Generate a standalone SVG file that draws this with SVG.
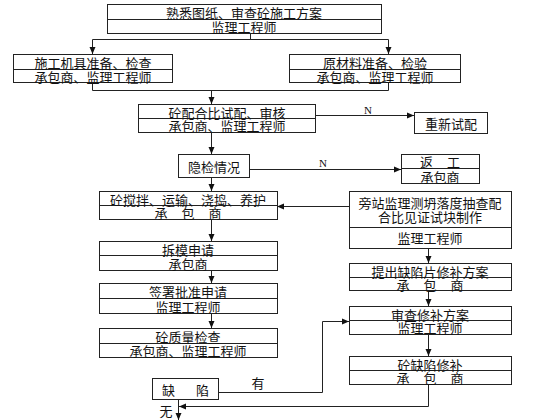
<svg xmlns="http://www.w3.org/2000/svg" width="560" height="420" viewBox="0 0 560 420">
<defs>
<style>
.b{fill:#fff;stroke:#222;stroke-width:1}
.d{stroke:#222;stroke-width:1;fill:none}
.t{font-family:"Noto Sans CJK SC","Noto Sans",sans-serif;font-size:13px;fill:#111;text-anchor:middle;dominant-baseline:central}
.sp{word-spacing:11px}
.n{font-family:"Liberation Serif",serif;font-size:11px;fill:#111;text-anchor:middle}
.c{stroke:#222;stroke-width:1;fill:none}
.ca{stroke:#222;stroke-width:1;fill:none;marker-end:url(#ah)}
</style>
<marker id="ah" markerWidth="7" markerHeight="7" refX="7" refY="3.5" orient="auto" markerUnits="userSpaceOnUse"><path d="M0,0.5 L7,3.5 L0,6.5 z" fill="#111"/></marker>
</defs>
<rect width="560" height="420" fill="#fff"/>

<g id="connectors">
<path class="c" d="M250.5,33 V39.5 M92.5,39.5 H388.5"/>
<path class="ca" d="M92.5,39.5 V54"/>
<path class="ca" d="M388.5,39.5 V54"/>
<path class="c" d="M92.5,82 V90.5 H388.5 V82"/>
<path class="ca" d="M211.5,90.5 V104"/>
<path class="ca" d="M315,115.5 H414"/>
<path class="ca" d="M211.5,132 V154"/>
<path class="ca" d="M249,169.5 H401"/>
<path class="ca" d="M211.5,177 V191"/>
<path class="ca" d="M349,206.5 H277"/>
<path class="ca" d="M211.5,219 V241"/>
<path class="ca" d="M211.5,270 V283"/>
<path class="ca" d="M211.5,313 V328"/>
<path class="ca" d="M428.5,248 V263"/>
<path class="ca" d="M428.5,290 V306"/>
<path class="ca" d="M428.5,334 V356"/>
<path class="ca" d="M428.5,384 V406.5 H179"/>
<path class="ca" d="M218,392.5 H322.5 V321.5 H349"/>
<path class="ca" d="M178.5,399 V420"/>
<text class="n" x="368" y="114">N</text>
<text class="n" x="323" y="167">N</text>
<text class="t" x="258" y="382">有</text>
<text class="t" x="166" y="410">无</text>
</g>

<g id="n1"><rect class="b" x="107.5" y="4.5" width="274" height="29"/><path class="d" d="M107.5,19.5 H381.5"/>
<text class="t" x="244" y="12.5">熟悉图纸、审查砼施工方案</text><text class="t" x="244" y="26.5">监理工程师</text></g>

<g id="n2"><rect class="b" x="13.5" y="54.5" width="159" height="28"/><path class="d" d="M13.5,69.5 H172.5"/>
<text class="t" x="93" y="62.5">施工机具准备、检查</text><text class="t" x="93" y="76">承包商、监理工程师</text></g>

<g id="n3"><rect class="b" x="289.5" y="54.5" width="171" height="28"/><path class="d" d="M289.5,69.5 H460.5"/>
<text class="t" x="375" y="62.5">原材料准备、检验</text><text class="t" x="375" y="76">承包商、监理工程师</text></g>

<g id="n4"><rect class="b" x="138.5" y="104.5" width="177" height="28"/><path class="d" d="M138.5,118.5 H315.5"/>
<text class="t" x="227" y="112">砼配合比试配、审核</text><text class="t" x="227" y="125.5">承包商、监理工程师</text></g>

<g id="n5"><rect class="b" x="414.5" y="112.5" width="73" height="21"/>
<text class="t" x="451" y="123">重新试配</text></g>

<g id="n6"><rect class="b" x="178.5" y="154.5" width="71" height="23"/>
<text class="t" x="214" y="166">隐检情况</text></g>

<g id="n7"><rect class="b" x="401.5" y="154.5" width="78" height="29"/><path class="d" d="M401.5,168.5 H479.5"/>
<text class="t sp" x="440" y="161.5">返 工</text><text class="t" x="440" y="176">承包商</text></g>

<g id="n8"><rect class="b" x="99.5" y="191.5" width="178" height="28"/><path class="d" d="M99.5,205.5 H277.5"/>
<text class="t" x="188" y="199">砼搅拌、运输、浇捣、养护</text><text class="t sp" x="188" y="212.5">承 包 商</text></g>

<g id="n9"><rect class="b" x="349.5" y="191.5" width="162" height="57"/><path class="d" d="M349.5,227.5 H511.5"/>
<text class="t" x="430" y="202">旁站监理测坍落度抽查配</text><text class="t" x="430" y="216">合比见证试块制作</text><text class="t" x="430" y="237.5">监理工程师</text></g>

<g id="n10"><rect class="b" x="99.5" y="241.5" width="178" height="29"/><path class="d" d="M99.5,255.5 H277.5"/>
<text class="t" x="188" y="249">拆模申请</text><text class="t" x="188" y="263">承包商</text></g>

<g id="n11"><rect class="b" x="349.5" y="263.5" width="162" height="27"/><path class="d" d="M349.5,277.5 H511.5"/>
<text class="t" x="430" y="271">提出缺陷片修补方案</text><text class="t sp" x="430" y="284">承 包 商</text></g>

<g id="n12"><rect class="b" x="99.5" y="283.5" width="178" height="30"/><path class="d" d="M99.5,298.5 H277.5"/>
<text class="t" x="188" y="291.5">签署批准申请</text><text class="t" x="188" y="306">监理工程师</text></g>

<g id="n13"><rect class="b" x="349.5" y="306.5" width="162" height="28"/><path class="d" d="M349.5,320.5 H511.5"/>
<text class="t" x="430" y="314">审查修补方案</text><text class="t" x="430" y="327.5">监理工程师</text></g>

<g id="n14"><rect class="b" x="99.5" y="328.5" width="178" height="29"/><path class="d" d="M99.5,343.5 H277.5"/>
<text class="t" x="188" y="336.5">砼质量检查</text><text class="t" x="188" y="350.5">承包商、监理工程师</text></g>

<g id="n15"><rect class="b" x="349.5" y="356.5" width="162" height="28"/><path class="d" d="M349.5,370.5 H511.5"/>
<text class="t" x="430" y="364">砼缺陷修补</text><text class="t sp" x="430" y="377.5">承 包 商</text></g>

<g id="n16"><rect class="b" x="152.5" y="378.5" width="66" height="21"/>
<text class="t" x="185.5" y="389" style="word-spacing:18px">缺 陷</text></g>
</svg>
